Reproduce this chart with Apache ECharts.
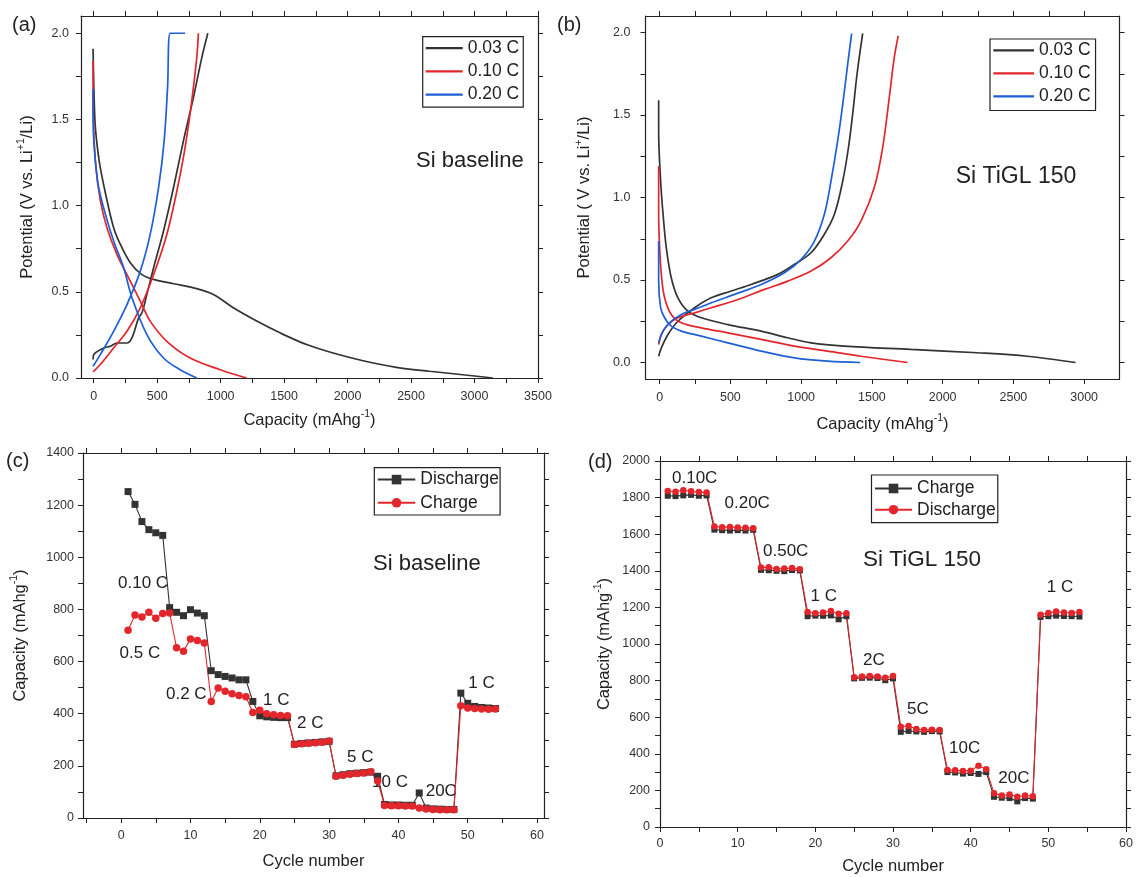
<!DOCTYPE html>
<html><head><meta charset="utf-8">
<script src="https://cdn.jsdelivr.net/npm/echarts@6/dist/echarts.min.js"></script>
<style>html,body{margin:0;padding:0;background:#fff}#c{width:1136px;height:877px}</style>
</head><body><div id="c"></div>
<script>
// ---------- Panel (a): Si baseline, potential vs capacity ----------
const rateNames = ['0.03 C', '0.10 C', '0.20 C'];
const aDis003 = [[-5,1.91],[0,1.725],[10,1.49],[26,1.357],[52,1.22],[105,1.03],[157,0.872],[210,0.775],[288,0.669],[380,0.60],[472,0.572],[629,0.547],[786,0.523],[943,0.485],[1100,0.407],[1284,0.33],[1467,0.262],[1677,0.194],[1886,0.145],[2122,0.10],[2384,0.062],[2646,0.039],[2908,0.019],[3144,0.0]];
const aChg003 = [[-5,0.107],[0,0.136],[79,0.174],[131,0.184],[183,0.203],[262,0.203],[301,0.233],[354,0.349],[380,0.378],[419,0.485],[472,0.64],[550,0.853],[629,1.105],[707,1.376],[786,1.628],[852,1.86],[899,2.0]];
const aDis010 = [[-5,1.84],[-4,1.55],[13,1.26],[52,1.03],[105,0.87],[183,0.717],[288,0.562],[367,0.446],[445,0.33],[576,0.213],[760,0.116],[996,0.048],[1205,0.0]];
const aChg010 = [[-5,0.035],[52,0.078],[157,0.174],[262,0.271],[367,0.407],[472,0.60],[576,0.833],[655,1.085],[720,1.337],[773,1.61],[812,1.86],[825,2.0]];
const aDis020 = [[-5,1.676],[-3,1.45],[13,1.26],[39,1.105],[92,0.95],[157,0.795],[236,0.64],[300,0.47],[419,0.252],[550,0.116],[681,0.048],[812,0.0]];
const aChg020 = [[-5,0.068],[52,0.136],[157,0.271],[262,0.426],[367,0.62],[445,0.833],[511,1.105],[555,1.376],[582,1.686],[603,2.0],[720,2.0]];
const aXTicks = [0,500,1000,1500,2000,2500,3000,3500];
const aXMinor = [250,750,1250,1750,2250,2750,3250];
const aYTicks = [0,0.5,1.0,1.5,2.0];
const aYMinor = [0.25,0.75,1.25,1.75];

// ---------- Panel (b): Si TiGL 150, potential vs capacity ----------
const bDis003 = [[-7,1.59],[-7,1.40],[7,1.10],[24,0.90],[47,0.696],[82,0.514],[129,0.392],[200,0.311],[294,0.271],[482,0.23],[717,0.19],[906,0.15],[1070,0.119],[1305,0.099],[1776,0.079],[2246,0.059],[2599,0.038],[2940,0.0]];
const bChg003 = [[-7,0.038],[12,0.089],[59,0.17],[129,0.25],[247,0.332],[365,0.392],[506,0.433],[647,0.473],[835,0.534],[953,0.595],[1070,0.665],[1164,0.777],[1235,0.898],[1294,1.10],[1334,1.30],[1364,1.505],[1395,1.747],[1435,1.994]];
const bDis010 = [[-7,1.19],[-7,0.90],[0,0.696],[12,0.534],[35,0.392],[82,0.291],[153,0.241],[294,0.21],[482,0.18],[717,0.14],[953,0.099],[1188,0.069],[1423,0.038],[1752,0.0]];
const bChg010 = [[-7,0.109],[12,0.17],[59,0.23],[129,0.271],[247,0.301],[365,0.332],[553,0.382],[741,0.443],[906,0.493],[1070,0.554],[1211,0.635],[1329,0.736],[1423,0.857],[1517,1.06],[1576,1.302],[1623,1.606],[1658,1.848],[1686,1.98]];
const bDis020 = [[-7,0.736],[-7,0.493],[7,0.332],[35,0.271],[82,0.22],[153,0.19],[294,0.16],[482,0.119],[717,0.069],[953,0.028],[1188,0.008],[1418,0.0]];
const bChg020 = [[-7,0.119],[24,0.19],[71,0.241],[153,0.291],[247,0.322],[365,0.362],[529,0.413],[717,0.473],[882,0.544],[1000,0.625],[1094,0.736],[1164,0.898],[1211,1.10],[1258,1.343],[1294,1.565],[1329,1.808],[1357,1.994]];
const bXTicks = [0,500,1000,1500,2000,2500,3000];
const bXMinor = [250,750,1250,1750,2250,2750];
const bYTicks = [0,0.5,1.0,1.5,2.0];
const bYMinor = [0.25,0.75,1.25,1.75];

// ---------- Panel (c): Si baseline rate capability ----------
const cCycles = [1,2,3,4,5,6,7,8,9,10,11,12,13,14,15,16,17,18,19,20,21,22,23,24,25,26,27,28,29,30,31,32,33,34,35,36,37,38,39,40,41,42,43,44,45,46,47,48,49,50,51,52,53,54];
const cDischarge = [1252,1203,1137,1106,1094,1084, 807,789,776,799,786,776, 565,550,543,537,530,530, 447,392,388,386,385,385, 283,286,288,290,292,294, 162,166,170,172,174,176, 160, 52,50,50,49,49, 96,38,35,34,33,33, 479,440,428,424,422,420];
const cCharge = [720,779,771,789,766,784, 786,653,640,687,681,671, 447,499,486,477,470,465, 405,413,400,396,393,392, 282,285,287,289,291,295, 160,164,168,171,173,177, 142, 48,47,47,46,46, 38,35,33,32,32,32, 431,422,420,418,417,418];
const cXTicks = [0,10,20,30,40,50,60];
const cXMinor = [-5,5,15,25,35,45,55];
const cYTicks = [0,200,400,600,800,1000,1200,1400];
const cYMinor = [100,300,500,700,900,1100,1300];

// ---------- Panel (d): Si TiGL 150 rate capability ----------
const dCycles = [1,2,3,4,5,6,7,8,9,10,11,12,13,14,15,16,17,18,19,20,21,22,23,24,25,26,27,28,29,30,31,32,33,34,35,36,37,38,39,40,41,42,43,44,45,46,47,48,49,50,51,52,53,54];
const dCharge = [1810,1808,1812,1815,1810,1812, 1625,1622,1620,1622,1620,1624, 1405,1403,1400,1398,1404,1402, 1152,1155,1154,1156,1135,1152, 812,815,816,814,802,812, 520,525,522,520,524,522, 300,298,292,295,290,300, 165,160,158,140,158,155, 1148,1152,1155,1153,1152,1150];
const dDischarge = [1836,1832,1840,1835,1830,1828, 1642,1638,1640,1636,1635,1632, 1418,1420,1410,1412,1415,1408, 1175,1168,1172,1180,1165,1168, 818,822,825,823,815,825, 548,552,535,530,532,530, 312,310,306,308,335,315, 185,172,178,165,172,168, 1160,1170,1178,1172,1170,1175];
const dXTicks = [0,10,20,30,40,50,60];
const dXMinor = [5,15,25,35,45,55];
const dYTicks = [0,200,400,600,800,1000,1200,1400,1600,1800,2000];
const dYMinor = [100,300,500,700,900,1100,1300,1500,1700,1900];

// ---------- styling ----------
const FONT = '"Liberation Sans", Arial, Helvetica, sans-serif';
const INK = '#222';
const BLACK = '#333', RED = '#e3262b', BLUE = '#1d5fd6';

const titleRich = {
  t: {fontSize: 16.5, fontFamily: FONT, color: INK, lineHeight: 22},
  s: {fontSize: 10.5, fontFamily: FONT, color: INK, verticalAlign: 'top', lineHeight: 22}
};
const capName = '{t|Capacity (mAhg}{s|-1}{t|)}';

const panels = [
  {grid: {left: 81, top: 16, width: 457, height: 362},
   x: {min: -100, max: 3500, major: aXTicks, minor: aXMinor, fmt: v => String(v), margin: 12, name: capName, gap: 31},
   y: {min: 0, max: 2.1, major: aYTicks, minor: aYMinor, fmt: v => v.toFixed(1), margin: 12, name: '{t|Potential (V vs. Li}{s|+1}{t|/Li)}', gap: 43}},
  {grid: {left: 645.5, top: 16, width: 474, height: 363},
   x: {min: -100, max: 3250, major: bXTicks, minor: bXMinor, fmt: v => String(v), margin: 12, name: capName, gap: 34},
   y: {min: -0.1, max: 2.1, major: bYTicks, minor: bYMinor, fmt: v => v.toFixed(1), margin: 15, name: '{t|Potential ( V vs. Li}{s|+}{t|/Li)}', gap: 50}},
  {grid: {left: 83, top: 453, width: 461, height: 365},
   x: {min: -5.5, max: 61, major: cXTicks, minor: cXMinor, fmt: v => String(v), margin: 11, name: '{t|Cycle number}', gap: 32},
   y: {min: 0, max: 1400, major: cYTicks, minor: cYMinor, fmt: v => String(v), margin: 9, name: capName, gap: 52}},
  {grid: {left: 660, top: 461, width: 469, height: 366},
   x: {min: 0, max: 60, major: dXTicks, minor: dXMinor, fmt: v => String(v), margin: 10, name: '{t|Cycle number}', gap: 28},
   y: {min: 0, max: 2000, major: dYTicks, minor: dYMinor, fmt: v => String(v), margin: 10, name: capName, gap: 45}}
];

function axisPair(dim, gi, cfg) {
  const ticks = cfg.major.concat(cfg.minor);
  const base = {type: 'value', gridIndex: gi, min: cfg.min, max: cfg.max, splitLine: {show: false},
    axisLine: {show: true, onZero: false, lineStyle: {color: INK, width: 1.2}},
    axisTick: {show: true, inside: false, length: 5, customValues: ticks, lineStyle: {color: INK, width: 1}}};
  const main = Object.assign({}, base, {
    position: dim === 'x' ? 'bottom' : 'left',
    axisLabel: {show: true, customValues: cfg.major, formatter: cfg.fmt, margin: cfg.margin, fontSize: 12.5, color: '#333', fontFamily: FONT},
    name: cfg.name, nameLocation: 'middle', nameGap: cfg.gap,
    nameTextStyle: {rich: titleRich}
  });
  const mirror = Object.assign({}, base, {
    position: dim === 'x' ? 'top' : 'right',
    axisLabel: {show: false}
  });
  return [main, mirror];
}

const xAxis = [], yAxis = [];
panels.forEach((p, i) => {
  xAxis.push(...axisPair('x', i, p.x));
  yAxis.push(...axisPair('y', i, p.y));
});

function curve(name, data, color, gi) {
  return {type: 'line', name, data, xAxisIndex: gi * 2, yAxisIndex: gi * 2, symbol: 'none', smooth: 0.35,
    lineStyle: {color, width: 1.7}, itemStyle: {color}, silent: true};
}
function pts(xs, ys) { return xs.map((c, i) => [c, ys[i]]); }
function rateSeries(name, xs, ys, color, symbol, size, gi) {
  return {type: 'line', name, data: pts(xs, ys), xAxisIndex: gi * 2, yAxisIndex: gi * 2,
    symbol, symbolSize: size, showSymbol: true, lineStyle: {color, width: 1.1}, itemStyle: {color}, silent: true};
}

const series = [
  curve(rateNames[0], aDis003, BLACK, 0), curve(rateNames[0], aChg003, BLACK, 0),
  curve(rateNames[1], aDis010, RED, 0), curve(rateNames[1], aChg010, RED, 0),
  curve(rateNames[2], aDis020, BLUE, 0), curve(rateNames[2], aChg020, BLUE, 0),
  curve(rateNames[0], bDis003, BLACK, 1), curve(rateNames[0], bChg003, BLACK, 1),
  curve(rateNames[1], bDis010, RED, 1), curve(rateNames[1], bChg010, RED, 1),
  curve(rateNames[2], bDis020, BLUE, 1), curve(rateNames[2], bChg020, BLUE, 1),
  rateSeries('Discharge', cCycles, cDischarge, BLACK, 'rect', 7, 2),
  rateSeries('Charge', cCycles, cCharge, RED, 'circle', 7.5, 2),
  rateSeries('Charge (d)', dCycles, dCharge, BLACK, 'rect', 6, 3),
  rateSeries('Discharge (d)', dCycles, dDischarge, RED, 'circle', 6.5, 3)
];

const legendText = {fontSize: 17.5, color: INK, fontFamily: FONT};
function legendBox(data, left, top, extra) {
  return Object.assign({data, left, top, orient: 'vertical', borderColor: INK, borderWidth: 1.2,
    backgroundColor: '#fff', textStyle: legendText, selectedMode: false,
    formatter: n => n.replace(' (d)', '')}, extra);
}
const lineIcons = rateNames.map(n => ({name: n, icon: 'rect'}));
const legend = [
  legendBox(lineIcons, 422.7, 36.7, {itemWidth: 37, itemHeight: 2.2, itemGap: 5.2, padding: [2.5, 4, 3.6, 3]}),
  legendBox(lineIcons, 990, 39, {itemWidth: 40.7, itemHeight: 2.2, itemGap: 5, padding: [2.3, 5, 5.2, 3.3]}),
  legendBox(['Discharge', 'Charge'], 374.3, 467.7, {itemWidth: 37.5, itemHeight: 12, itemGap: 5.2, padding: [2.9, 1, 3.2, 2.5]}),
  legendBox(['Charge (d)', 'Discharge (d)'], 871.5, 475, {itemWidth: 37, itemHeight: 12, itemGap: 3.2, padding: [4.5, 2, 4, 2.5]})
];

// annotations: [text, left x, centre y, font size]
const notes = [
  ['(a)', 12, 25.5, 20], ['(b)', 557, 25.5, 20], ['(c)', 6, 461, 20], ['(d)', 588, 462, 20],
  ['Si baseline', 416, 160.7, 22], ['Si TiGL 150', 955.7, 176.7, 23],
  ['Si baseline', 373, 564, 22], ['Si TiGL 150', 863, 560, 22.5],
  ['0.10 C', 118, 583.3, 17], ['0.5 C', 119.6, 653.3, 17], ['0.2 C', 166, 694, 17], ['1 C', 263, 700, 17],
  ['2 C', 297, 723, 17], ['5 C', 347, 757, 17], ['10 C', 372, 782, 17], ['20C', 425.7, 791.7, 17], ['1 C', 468.3, 683.3, 17],
  ['0.10C', 672, 478.3, 17], ['0.20C', 724.5, 503.3, 17], ['0.50C', 763, 551.7, 17], ['1 C', 810.5, 596.7, 17],
  ['2C', 863, 660, 17], ['5C', 907, 709, 17], ['10C', 949, 748.3, 17], ['20C', 998.3, 778.3, 17], ['1 C', 1046.8, 587, 17]
];
const graphic = notes.map(n => ({type: 'text', x: n[1], y: n[2], z: 0, silent: true,
  style: {text: n[0], font: n[3] + 'px ' + FONT, fill: INK, textAlign: 'left', textVerticalAlign: 'middle'}}));

const chart = echarts.init(document.getElementById('c'), null, {renderer: 'canvas'});
chart.setOption({
  animation: false, backgroundColor: '#fff',
  grid: panels.map(p => Object.assign({containLabel: false}, p.grid)),
  xAxis, yAxis, series, legend, graphic
});
</script></body></html>
